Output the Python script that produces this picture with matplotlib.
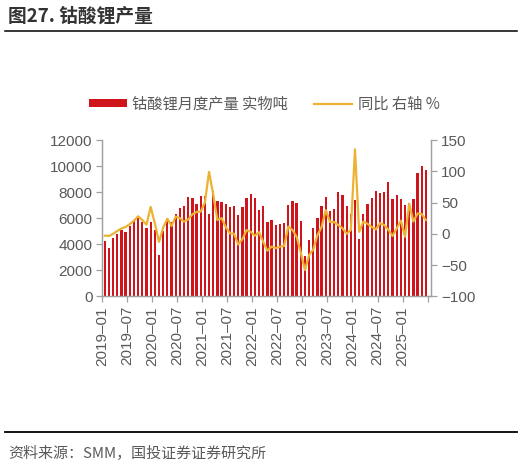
import numpy as np
import matplotlib
matplotlib.use("Agg")
import matplotlib.pyplot as plt
from matplotlib.patches import Patch
from matplotlib.lines import Line2D

plt.rcParams['font.family'] = ['Liberation Sans', 'Noto Sans CJK SC', 'DejaVu Sans']
plt.rcParams['axes.unicode_minus'] = True

# 2019-01 .. 2025-06, monthly
months = [f"{y}-{m:02d}" for y in range(2019, 2026) for m in range(1, 13)][:78]

# 钴酸锂月度产量 (实物吨)
output_t = [4280, 3720, 4510, 4780, 5100, 4900, 5360, 5810, 6190, 5720, 5270, 5720,
            5100, 3170, 5050, 5800, 5720, 6300, 6780, 6910, 7630, 7530, 7110, 7730,
            7700, 6320, 8100, 7330, 7230, 7080, 6820, 6950, 6260, 6890, 7570, 7870,
            7560, 6630, 6940, 5680, 5860, 5470, 5580, 5600, 7010, 7320, 7180, 5770,
            3100, 4360, 5230, 6000, 6900, 7615, 6540, 6740, 7970, 7810, 6950, 6310,
            7360, 4380, 6310, 7050, 7560, 8050, 7950, 7970, 8770, 7490, 7770, 7490,
            7030, 7180, 7460, 9460, 10030, 9720]

# 同比 (%)
yoy = [-3, -3.5, 0, 4.5, 8.5, 11, 15.5, 21, 28, 22, 14.5, 43,
       17, -13, 10, 24, 12.5, 27.5, 25, 19.5, 23, 31, 35, 35.5,
       50, 99, 63, 22, 25, 11, 0.7, 0, -17, -8.5, 6, 3,
       -3, 2.5, -13, -27, -20.5, -23, -20.5, -19.5, 11.5, 6, -4.6, -30,
       -58, -34, -25, -2, 11, 38, 19, 18.5, 14, 9, 0, 6,
       135, 3, 19.5, 16, 11, 7, 17, 14, 6.5, -3.5, 8.7, 21,
       -4.6, 48, 19.5, 32.5, 31.5, 22]

tick_idx = list(range(0, 79, 6))
tick_labels = [months[i].replace('-', '–') if i < len(months) else '' for i in tick_idx]

bar_color = '#D0141C'
line_color = '#EDB232'
spine_color = '#A0A0A0'
text_color = '#595959'
cjk = ['Noto Sans CJK SC', 'DejaVu Sans']

fig = plt.figure(figsize=(5.27, 4.67), dpi=100)
ax = fig.add_axes([0.1941, 0.3655, 0.6243, 0.3347])
ax2 = ax.twinx()

x = np.arange(len(months)) + 0.6
ax.bar(x, output_t, width=0.55, color=bar_color, linewidth=0)
ax2.plot(x, yoy, color=line_color, linewidth=1.6)

ax.set_xlim(0, 78.9)
ax.set_ylim(0, 12000)
ax.set_yticks(range(0, 12001, 2000))
ax2.set_ylim(-100, 150)
ax2.set_yticks(range(-100, 151, 50))
ax.set_xticks(tick_idx)
ax.set_xticklabels(tick_labels, rotation=90)

for a in (ax, ax2):
    a.spines['top'].set_visible(False)
    for s in ('left', 'right', 'bottom'):
        a.spines[s].set_color(spine_color)
        a.spines[s].set_linewidth(0.9)
    a.tick_params(colors=spine_color, labelcolor=text_color, labelsize=11,
                  length=4, width=0.9, direction='out', pad=3)

handles = [Patch(facecolor=bar_color, edgecolor='none'),
           Line2D([], [], color=line_color, linewidth=1.6)]
fig.legend(handles, ['钴酸锂月度产量 实物吨', '同比 右轴 %'],
           loc='center', bbox_to_anchor=(0.501, 0.777), ncol=2, frameon=False,
           prop={'family': cjk, 'size': 11},
           labelcolor=text_color, handlelength=2.5, handleheight=0.45,
           handletextpad=0.35, columnspacing=1.7)

fig.text(0.015, 0.966, '图27. 钴酸锂产量', fontsize=13.5, fontweight='bold',
         color='#333333', family=cjk, va='center')
fig.add_artist(Line2D([0.0095, 0.981], [0.9336, 0.9336], color='black', linewidth=1.1))
fig.add_artist(Line2D([0.0095, 0.981], [0.0743, 0.0743], color='black', linewidth=1.3))
fig.text(0.015, 0.028, '资料来源：SMM，国投证券证券研究所', fontsize=10.8, style='italic',
         color=text_color, family=cjk, va='center')

fig.savefig('out.png', dpi=100)
